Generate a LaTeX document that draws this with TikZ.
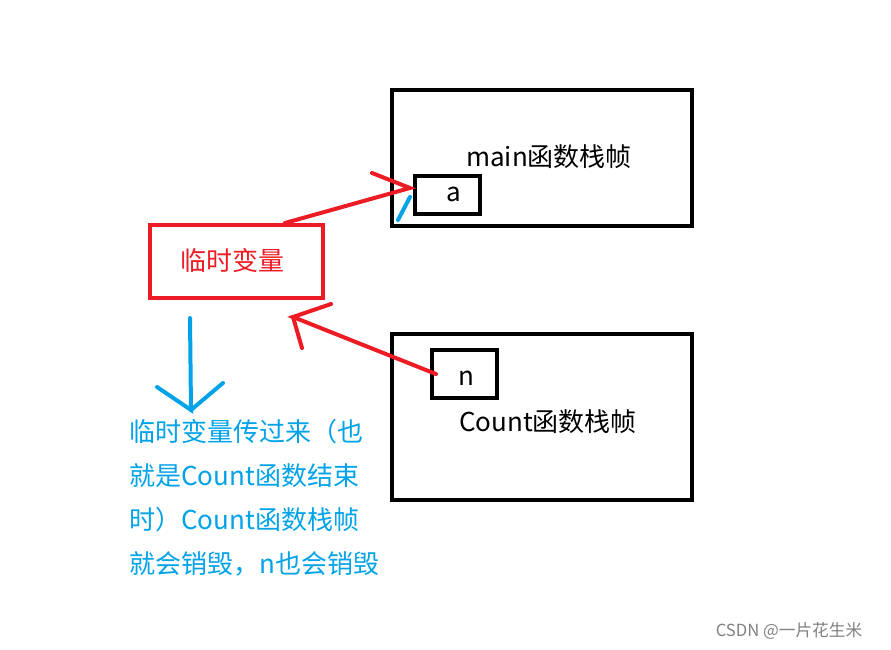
\documentclass[tikz,border=0pt]{standalone}
\usepackage{fontspec}
\setmainfont{Noto Sans CJK SC}
\definecolor{pred}{HTML}{ED1C24}
\definecolor{pblue}{HTML}{00A2E8}
\begin{document}
\begin{tikzpicture}[x=0.75pt,y=-0.75pt,
  blk/.style={draw=black,line width=3pt},
  redline/.style={draw=pred,line width=3pt,line cap=round},
  blueline/.style={draw=pblue,line width=3pt,line cap=round},
  txt/.style={font=\fontsize{19.5}{19.5}\selectfont,inner sep=0pt}]
\useasboundingbox (0,0) rectangle (891,649);
\node[blk,minimum width=300*0.75pt,minimum height=136*0.75pt,inner sep=0pt] (main) at (542,158) {};
\node[blk,minimum width=65*0.75pt,minimum height=38*0.75pt,inner sep=0pt] (abox) at (447.5,195) {};
\node[txt] (at) at (454,194) {a};
\node[txt] (mt) at (549,157) {main函数栈帧};
\node[redline,line cap=butt,minimum width=173*0.75pt,minimum height=73*0.75pt,inner sep=0pt] (tmp) at (236.5,261.5) {};
\node[txt,text=pred] (tt) at (232,261) {临时变量};
\node[blk,minimum width=300*0.75pt,minimum height=166*0.75pt,inner sep=0pt] (cnt) at (542,417) {};
\node[blk,minimum width=65*0.75pt,minimum height=48*0.75pt,inner sep=0pt] (nbox) at (464.5,374) {};
\node[txt] (nt) at (466,378) {n};
\node[txt] (ct) at (548,422) {Count函数栈帧};
\coordinate (p1) at (285,223);
\coordinate (p2) at (410,188);
\coordinate (p3) at (372,173);
\draw[redline] (p1) -- (p2) -- (p3);
\coordinate (b1) at (410,197);
\coordinate (b2) at (398,220);
\draw[blueline] (b1) -- (b2);
\coordinate (q1) at (436,374);
\coordinate (q2) at (293,317);
\coordinate (q3) at (331,304);
\coordinate (q4) at (302,348);
\draw[redline] (q1) -- (q2) -- (q3);
\draw[redline] (q2) -- (q4);
\coordinate (d1) at (190,318);
\coordinate (d2) at (191,410);
\coordinate (d3) at (157,387);
\coordinate (d4) at (223,383);
\draw[blueline] (d1) -- (d2) -- (d3);
\draw[blueline] (d2) -- (d4);
\node[txt,text=pblue,anchor=north west,align=left,font=\fontsize{19.5}{33}\selectfont] (bt) at (129,419)
 {临时变量传过来（也\\就是Count函数结束\\时）Count函数栈帧\\就会销毁，n也会销毁};
\node[inner sep=0pt,text=gray,font=\fontsize{12.5}{12.5}\selectfont] (wm) at (789,631) {CSDN @一片花生米};
\end{tikzpicture}
\end{document}
